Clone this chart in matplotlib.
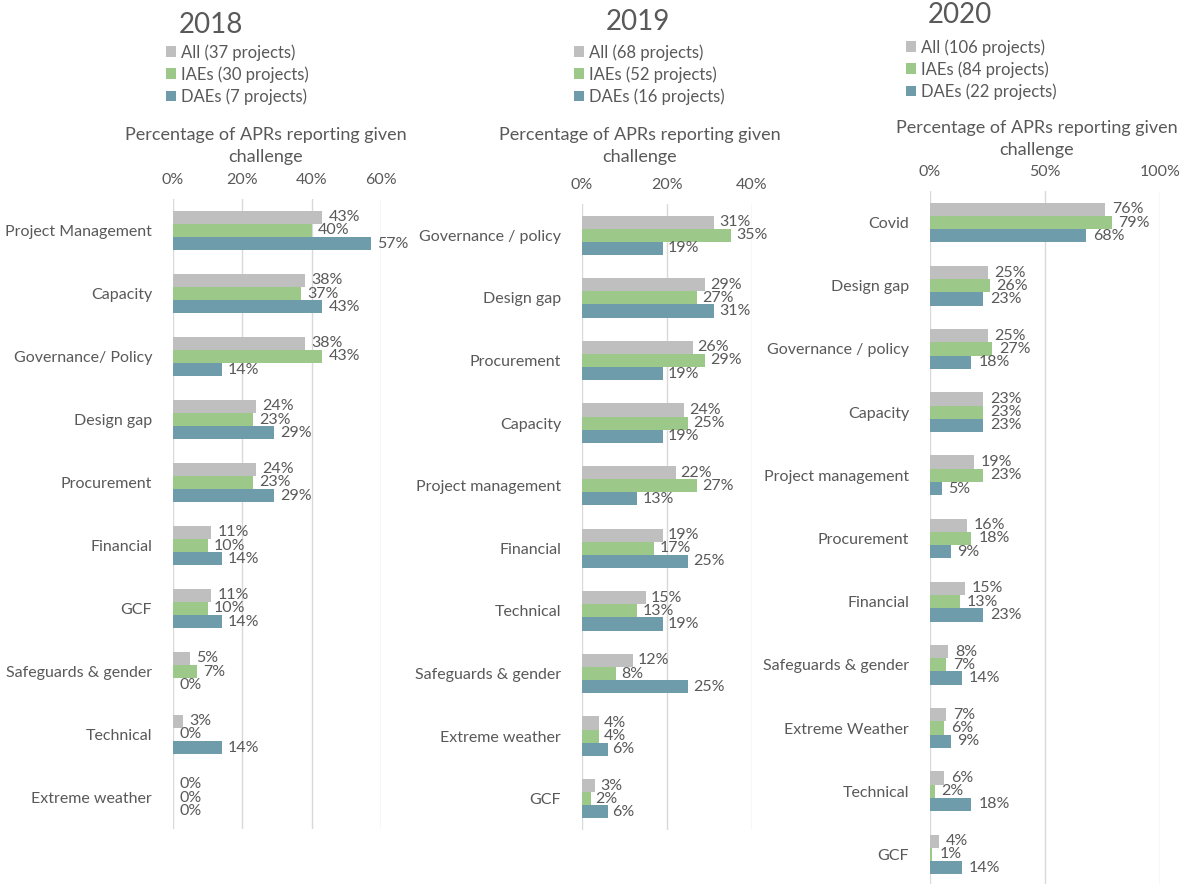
import numpy as np
import matplotlib.pyplot as plt

plt.rcParams['font.family'] = ['Lato', 'DejaVu Sans']

W, H = 1190, 884
GREY, GREEN, TEAL = '#BFBFBF', '#9CC98A', '#6F9CAA'
TXT = '#595959'

# data (percent)
cats_2018 = ["Project Management", "Capacity", "Governance/ Policy", "Design gap", "Procurement",
             "Financial", "GCF", "Safeguards & gender", "Technical", "Extreme weather"]
all_2018 = [43, 38, 38, 24, 24, 11, 11, 5, 3, 0]
iae_2018 = [40, 37, 43, 23, 23, 10, 10, 7, 0, 0]
dae_2018 = [57, 43, 14, 29, 29, 14, 14, 0, 14, 0]
leg_2018 = ["All (37 projects)", "IAEs (30 projects)", "DAEs (7 projects)"]

cats_2019 = ["Governance / policy", "Design gap", "Procurement", "Capacity", "Project management",
             "Financial", "Technical", "Safeguards & gender", "Extreme weather", "GCF"]
all_2019 = [31, 29, 26, 24, 22, 19, 15, 12, 4, 3]
iae_2019 = [35, 27, 29, 25, 27, 17, 13, 8, 4, 2]
dae_2019 = [19, 31, 19, 19, 13, 25, 19, 25, 6, 6]
leg_2019 = ["All (68 projects)", "IAEs (52 projects)", "DAEs (16 projects)"]

cats_2020 = ["Covid", "Design gap", "Governance / policy", "Capacity", "Project management",
             "Procurement", "Financial", "Safeguards & gender", "Extreme Weather", "Technical", "GCF"]
all_2020 = [76, 25, 25, 23, 19, 16, 15, 8, 7, 6, 4]
iae_2020 = [79, 26, 27, 23, 23, 18, 13, 7, 6, 2, 1]
dae_2020 = [68, 23, 18, 23, 5, 9, 23, 14, 9, 18, 14]
leg_2020 = ["All (106 projects)", "IAEs (84 projects)", "DAEs (22 projects)"]


def fx(px):
    return px / W


def fy(py):
    return 1 - py / H


fig = plt.figure(figsize=(11.9, 8.84), dpi=100)

panels = [
    # year, cats, series, legend, xmax, ticks, axis box (l, r, top, bottom px), title pos, legend pos, label pos
    ("2018", cats_2018, [all_2018, iae_2018, dae_2018], leg_2018, 60, [0, 20, 40, 60],
     (173, 381, 199, 829), (211, 25), (166, 44), (266, 146)),
    ("2019", cats_2019, [all_2019, iae_2019, dae_2019], leg_2019, 40, [0, 20, 40],
     (582, 752, 204, 830), (638, 22), (574, 44), (640, 146)),
    ("2020", cats_2020, [all_2020, iae_2020, dae_2020], leg_2020, 100, [0, 50, 100],
     (930, 1160, 191, 886), (960, 15), (906, 39), (1037, 139)),
]

for year, cats, series, legs, xmax, ticks, box, tpos, lpos, apos in panels:
    l, r, t, b = box
    ax = fig.add_axes([fx(l), fy(b), fx(r) - fx(l), fy(t) - fy(b)])
    n = len(cats)
    y = np.arange(n)
    h = 0.21
    handles = []
    for k, (vals, col) in enumerate(zip(series, [GREY, GREEN, TEAL])):
        yy = y + (k - 1) * h
        bars = ax.barh(yy, vals, height=h, color=col, zorder=3)
        handles.append(bars)
        for yi, v in zip(yy, vals):
            ax.text(v + xmax * 0.03, yi, f"{v}%", va='center', ha='left',
                    fontsize=11.5, color=TXT, zorder=4)
    ax.set_ylim(n - 0.5, -0.5)
    ax.set_xlim(0, xmax)
    ax.set_yticks(y)
    ax.set_yticklabels(cats, fontsize=11.5, color=TXT)
    ax.set_xticks(ticks)
    ax.set_xticklabels([f"{v}%" for v in ticks], fontsize=11.5, color=TXT)
    ax.xaxis.tick_top()
    ax.tick_params(axis='both', length=0)
    ax.tick_params(axis='x', pad=9)
    ax.tick_params(axis='y', pad=15)
    ax.grid(axis='x', color='#D9D9D9', linewidth=1, zorder=0)
    for s in ax.spines.values():
        s.set_visible(False)

    fig.text(fx(tpos[0]), fy(tpos[1]), year, fontsize=20, color=TXT, ha='center', va='center')
    fig.legend(handles, legs, loc='upper left', bbox_to_anchor=(fx(lpos[0]), fy(lpos[1])),
               frameon=False, fontsize=12, labelcolor=TXT, handlelength=0.6, handleheight=0.6,
               handletextpad=0.3, labelspacing=0.33, borderpad=0, borderaxespad=0)
    fig.text(fx(apos[0]), fy(apos[1]), "Percentage of APRs reporting given\nchallenge",
             fontsize=13, color=TXT, ha='center', va='center', linespacing=1.4)

fig.savefig("out.png", dpi=100)
